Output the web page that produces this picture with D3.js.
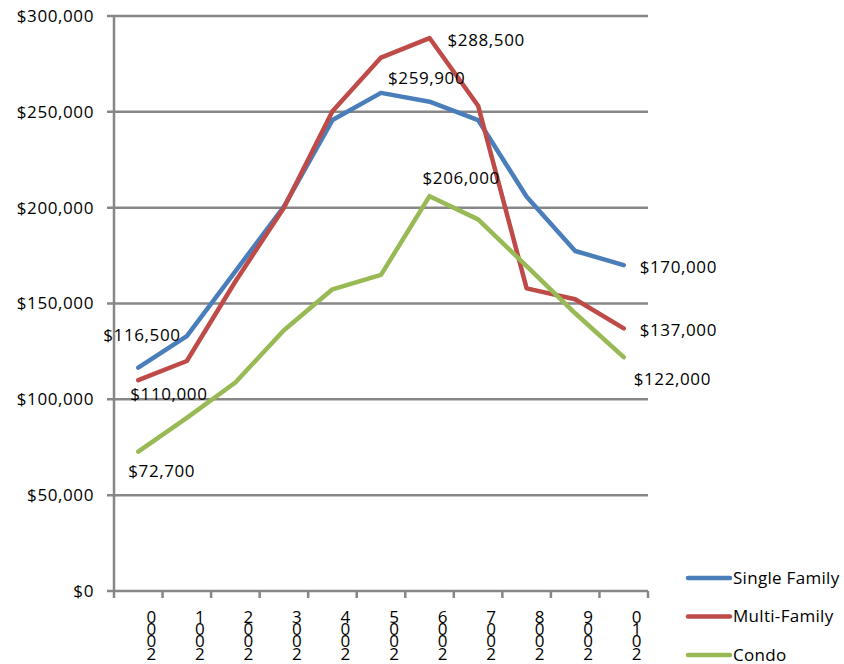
<!doctype html>
<html>
  <head>
    <style>
      body { margin: 0; background: #fff; }
      text { font-family: "Open Sans", sans-serif; fill: #000; }
    </style>
  </head>
  <body>
    <svg width="844" height="664" id="chart"></svg>

    <script src="https://cdnjs.cloudflare.com/ajax/libs/d3/7.8.5/d3.min.js"></script>
    <script>
      const years = ['2000', '2001', '2002', '2003', '2004', '2005', '2006', '2007', '2008', '2009', '2010']
      const seriesNames = ['Single Family', 'Multi-Family', 'Condo']
      const singleFamily = [116500, 133000, 166800, 200500, 245700, 259900, 255300, 245700, 205700, 177400, 170000]
      const multiFamily = [110000, 120000, 161500, 200000, 250300, 278300, 288500, 253200, 157900, 152200, 137000]
      const condo = [72700, 90300, 108800, 136000, 157400, 164900, 206000, 193900, 169500, 144900, 122000]
      const yTicks = [0, 50000, 100000, 150000, 200000, 250000, 300000]
      const colors = ['#4a7ebb', '#be4b48', '#98b954']

      // which points carry a value label: [series, year index]
      const labelled = [[0, 0], [1, 0], [2, 0], [0, 5], [1, 6], [2, 6], [0, 10], [1, 10], [2, 10]]
      // offsets of each label from its point (left edge of text, vertical centre)
      const labelOffsets = [[-35, -33], [-8, 14], [-10, 19], [7, -15], [18, 2], [-7, -18], [16, 2], [16, 2], [10, 22]]

      const allSeries = [singleFamily, multiFamily, condo]

      const svg = d3.select('#chart')
      const margin = {left: 114, right: 196, top: 16, bottom: 73}
      const width = 844 - margin.left - margin.right
      const height = 664 - margin.top - margin.bottom

      const g = svg.append('g').attr('transform', `translate(${margin.left}, ${margin.top})`)

      const x = d3.scaleBand().domain(years).range([0, width])
      const y = d3.scaleLinear().domain([0, 300000]).range([height, 0])
      const fmt = d3.format('$,')
      const grey = '#878787'

      // gridlines
      g.selectAll('.grid')
        .data(yTicks)
        .enter().append('line')
        .attr('x1', -7).attr('x2', width)
        .attr('y1', d => y(d)).attr('y2', d => y(d))
        .style('stroke', grey)
        .style('stroke-width', 2.5)

      // y labels
      g.selectAll('.ylab')
        .data(yTicks)
        .enter().append('text')
        .attr('x', -20)
        .attr('y', d => y(d))
        .attr('dy', '0.35em')
        .attr('text-anchor', 'end')
        .style('font-size', '17px')
        .style('letter-spacing', '0.6px')
        .text(d => fmt(d))

      // y axis line
      g.append('line')
        .attr('x1', 0).attr('x2', 0)
        .attr('y1', 0).attr('y2', height)
        .style('stroke', grey)
        .style('stroke-width', 2.5)

      // x tick marks at band edges
      const edges = years.map(d => x(d)).concat([width])
      g.selectAll('.xtick')
        .data(edges)
        .enter().append('line')
        .attr('x1', d => d).attr('x2', d => d)
        .attr('y1', height).attr('y2', height + 7)
        .style('stroke', grey)
        .style('stroke-width', 2.5)

      // stacked year labels, read bottom to top
      const xl = g.selectAll('.xlab')
        .data(years)
        .enter().append('text')
        .attr('text-anchor', 'middle')
        .style('font-size', '17px')
      xl.each(function (d) {
        const cx = x(d) + x.bandwidth() / 2 + 13
        const chars = d.split('').reverse()
        d3.select(this).selectAll('tspan')
          .data(chars)
          .enter().append('tspan')
          .attr('x', cx)
          .attr('y', (c, i) => height + 32 + i * 12.2)
          .text(c => c)
      })

      // lines
      const line = d3.line()
        .x((d, i) => x(years[i]) + x.bandwidth() / 2)
        .y(d => y(d))

      allSeries.forEach((s, k) => {
        g.append('path')
          .datum(s)
          .attr('d', line)
          .style('fill', 'none')
          .style('stroke', colors[k])
          .style('stroke-width', 4.5)
          .style('stroke-linejoin', 'round')
          .style('stroke-linecap', 'round')
      })

      // value labels
      labelled.forEach(([k, i], n) => {
        const px = x(years[i]) + x.bandwidth() / 2
        const py = y(allSeries[k][i])
        g.append('text')
          .attr('x', px + labelOffsets[n][0])
          .attr('y', py + labelOffsets[n][1])
          .attr('dy', '0.35em')
          .style('font-size', '17px')
          .style('letter-spacing', '0.6px')
          .text(fmt(allSeries[k][i]))
      })

      // legend
      const legend = svg.append('g').attr('transform', 'translate(686, 578)')
      seriesNames.forEach((name, k) => {
        const row = legend.append('g').attr('transform', `translate(0, ${k * 38.5})`)
        row.append('line')
          .attr('x1', 2).attr('x2', 44)
          .attr('y1', 0).attr('y2', 0)
          .style('stroke', colors[k])
          .style('stroke-width', 4.5)
          .style('stroke-linecap', 'round')
        row.append('text')
          .attr('x', 47)
          .attr('y', 0)
          .attr('dy', '0.35em')
          .style('font-size', '17px')
          .style('letter-spacing', '0.3px')
          .text(name)
      })
    </script>
  </body>
</html>
